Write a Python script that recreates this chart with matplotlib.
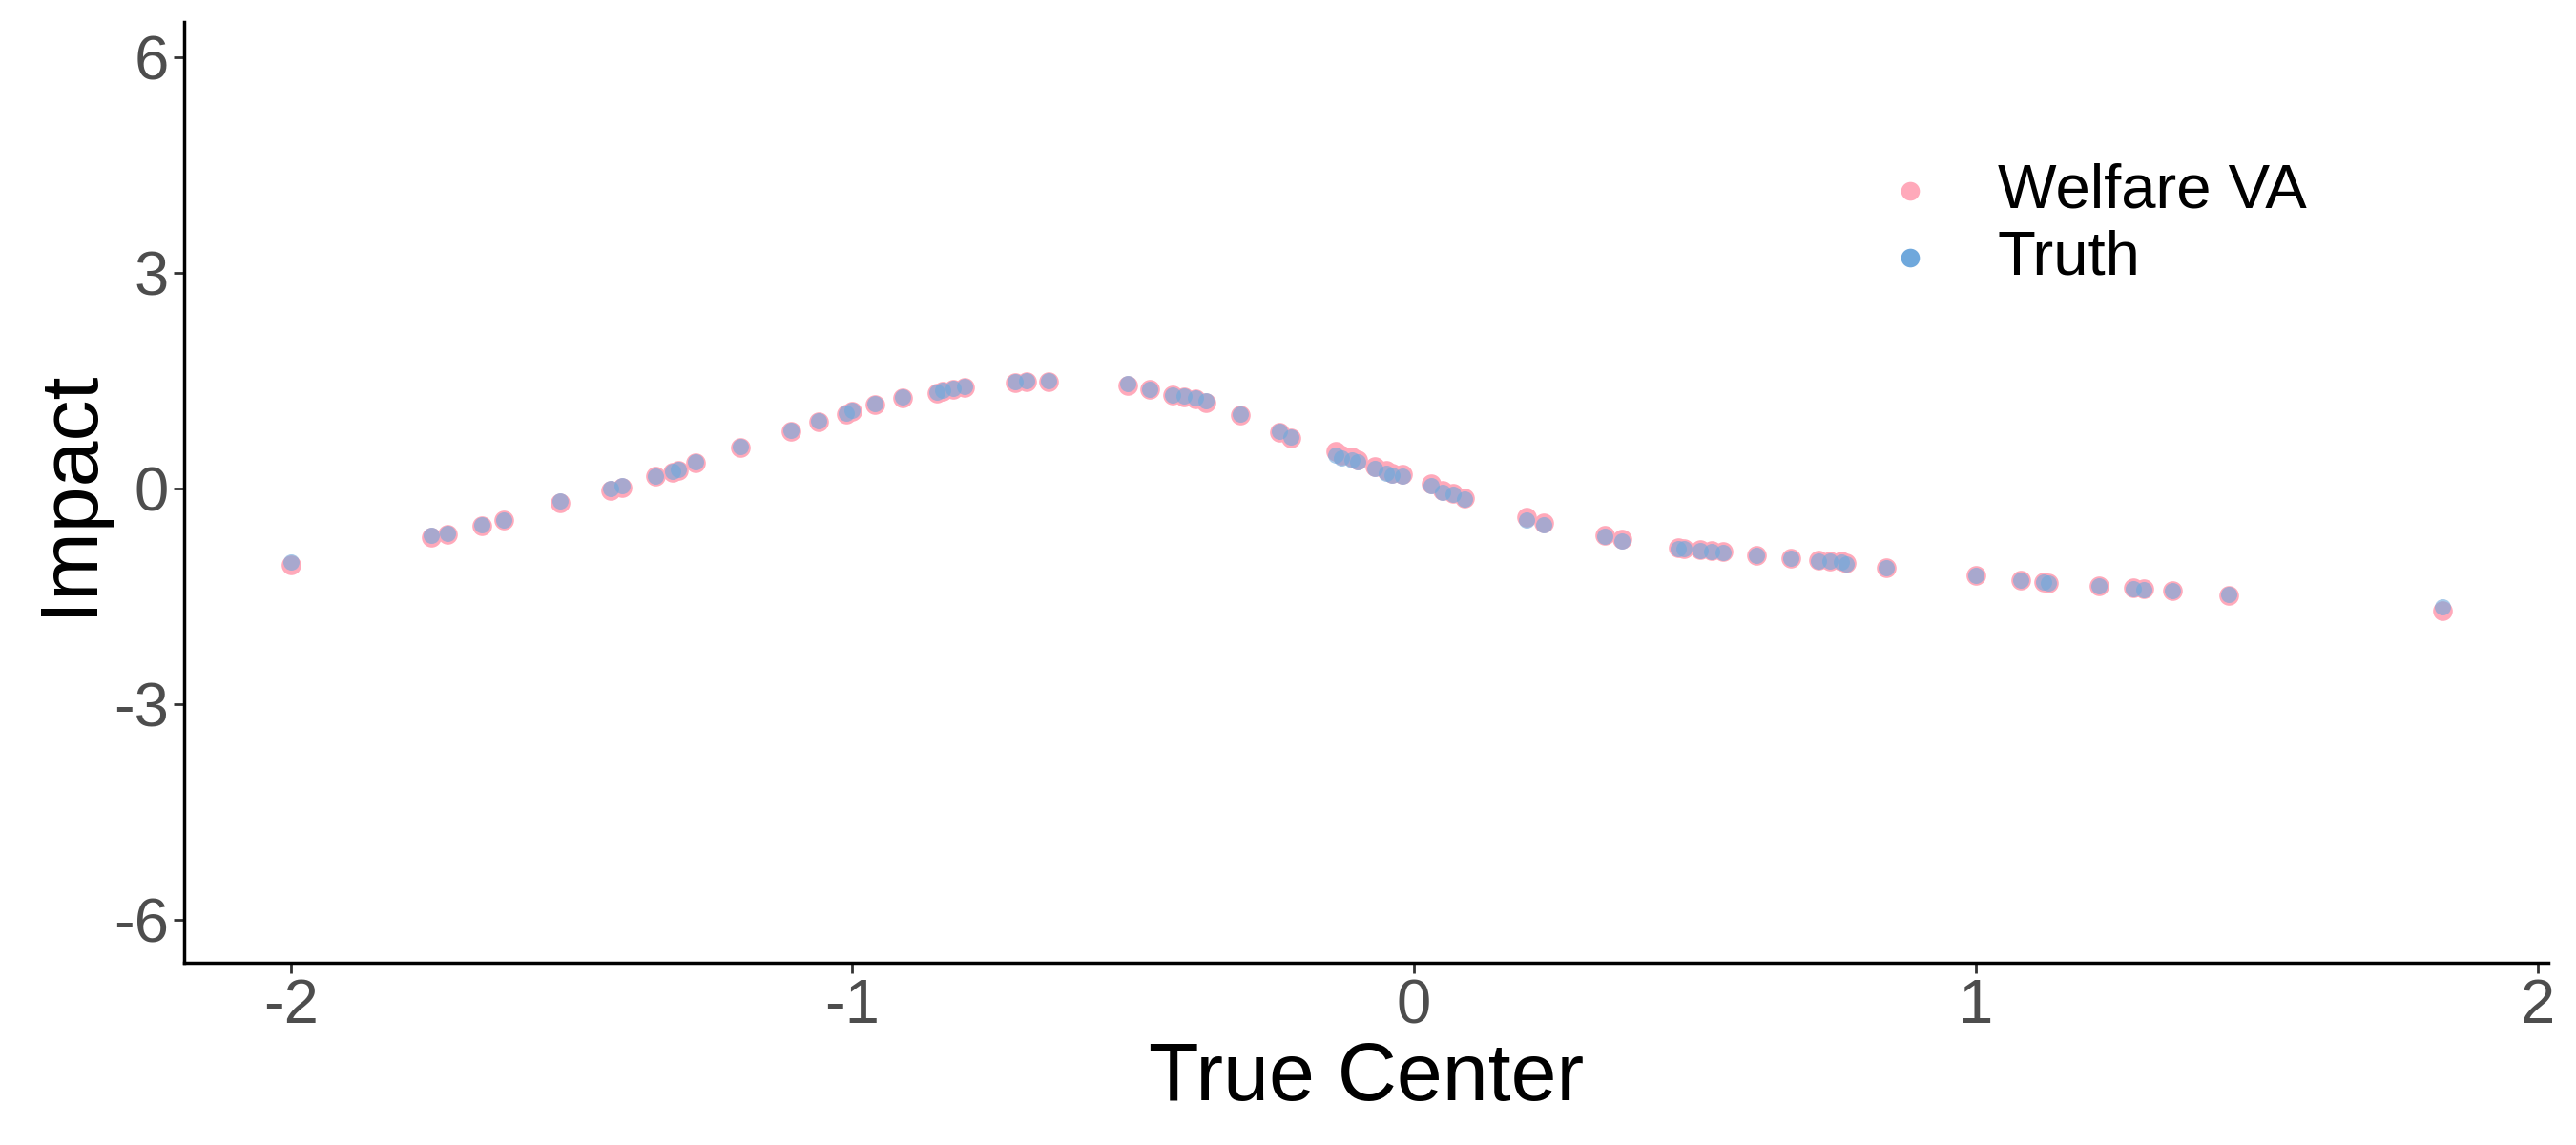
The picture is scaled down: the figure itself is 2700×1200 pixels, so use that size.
import numpy as np
import matplotlib.pyplot as plt

plt.rcParams['font.family'] = ['Liberation Sans', 'DejaVu Sans']

# true center positions
center = [-2.0, -1.75, -1.72, -1.66, -1.62, -1.52, -1.43, -1.41, -1.35, -1.32, -1.31,
          -1.28, -1.2, -1.11, -1.06, -1.01, -1.0, -0.96, -0.91, -0.85, -0.84, -0.82,
          -0.80, -0.71, -0.69, -0.65, -0.51, -0.47, -0.43, -0.41, -0.39, -0.37, -0.31,
          -0.24, -0.22, -0.14, -0.13, -0.11, -0.10, -0.07, -0.05, -0.04, -0.02, 0.03,
          0.05, 0.07, 0.09, 0.20, 0.23, 0.34, 0.37, 0.47, 0.48, 0.51, 0.53, 0.55, 0.61,
          0.67, 0.72, 0.74, 0.76, 0.77, 0.84, 1.0, 1.08, 1.12, 1.13, 1.22, 1.28, 1.30,
          1.35, 1.45, 1.83]
truth = [-1.02, -0.65, -0.62, -0.50, -0.43, -0.17, 0.0, 0.04, 0.18, 0.24, 0.27,
         0.37, 0.59, 0.81, 0.94, 1.05, 1.09, 1.18, 1.28, 1.35, 1.37, 1.40,
         1.43, 1.49, 1.50, 1.51, 1.46, 1.39, 1.31, 1.29, 1.26, 1.22, 1.04,
         0.80, 0.72, 0.47, 0.43, 0.40, 0.38, 0.28, 0.22, 0.19, 0.17, 0.04,
         -0.05, -0.08, -0.14, -0.43, -0.50, -0.66, -0.73, -0.83, -0.84, -0.86, -0.87, -0.89, -0.93,
         -0.97, -1.0, -1.01, -1.02, -1.05, -1.1, -1.2, -1.27, -1.3, -1.31, -1.35, -1.39, -1.40,
         -1.42, -1.47, -1.65]
welfare = [-1.06, -0.67, -0.63, -0.52, -0.44, -0.19, -0.02, 0.02, 0.17, 0.23, 0.26,
           0.36, 0.57, 0.80, 0.93, 1.04, 1.08, 1.17, 1.27, 1.33, 1.36, 1.39,
           1.41, 1.48, 1.49, 1.49, 1.44, 1.38, 1.30, 1.28, 1.25, 1.20, 1.02,
           0.79, 0.71, 0.52, 0.47, 0.44, 0.40, 0.31, 0.25, 0.22, 0.20, 0.07,
           -0.03, -0.06, -0.13, -0.40, -0.48, -0.65, -0.70, -0.82, -0.83, -0.85, -0.86, -0.88, -0.92,
           -0.96, -0.99, -1.0, -1.01, -1.03, -1.1, -1.2, -1.27, -1.3, -1.31, -1.35, -1.38, -1.39,
           -1.42, -1.48, -1.70]

fig = plt.figure(figsize=(27, 12), dpi=100)
ax = fig.add_axes([0.0714, 0.159, 0.918, 0.822])

ax.scatter(center, welfare, s=220, color='#FFA9BA', linewidths=0, label='Welfare VA')
ax.scatter(center, truth, s=150, color='#6FA8DC', alpha=0.6, linewidths=0, label='Truth')

ax.set_xlim(-2.19, 2.02)
ax.set_ylim(-6.6, 6.5)
ax.set_xticks([-2, -1, 0, 1, 2])
ax.set_yticks([-6, -3, 0, 3, 6])
ax.set_xticklabels(['-2', '-1', '0', '1', '2'])
ax.set_yticklabels(['-6', '-3', '0', '3', '6'])
ax.tick_params(labelsize=47, labelcolor='#4D4D4D', length=8, width=2, color='#333333')
for side in ['top', 'right']:
    ax.spines[side].set_visible(False)
for side in ['left', 'bottom']:
    ax.spines[side].set_linewidth(2.5)
ax.set_xlabel('True Center', fontsize=62)
ax.set_ylabel('Impact', fontsize=62)

leg = ax.legend(loc='upper left', bbox_to_anchor=(0.68, 0.91), frameon=False,
                fontsize=47, handletextpad=0.4, labelspacing=0.15, markerscale=1.0)
for h in leg.legend_handles:
    h.set_alpha(1)
    h.set_sizes([200])

fig.savefig('out.png', dpi=100)
